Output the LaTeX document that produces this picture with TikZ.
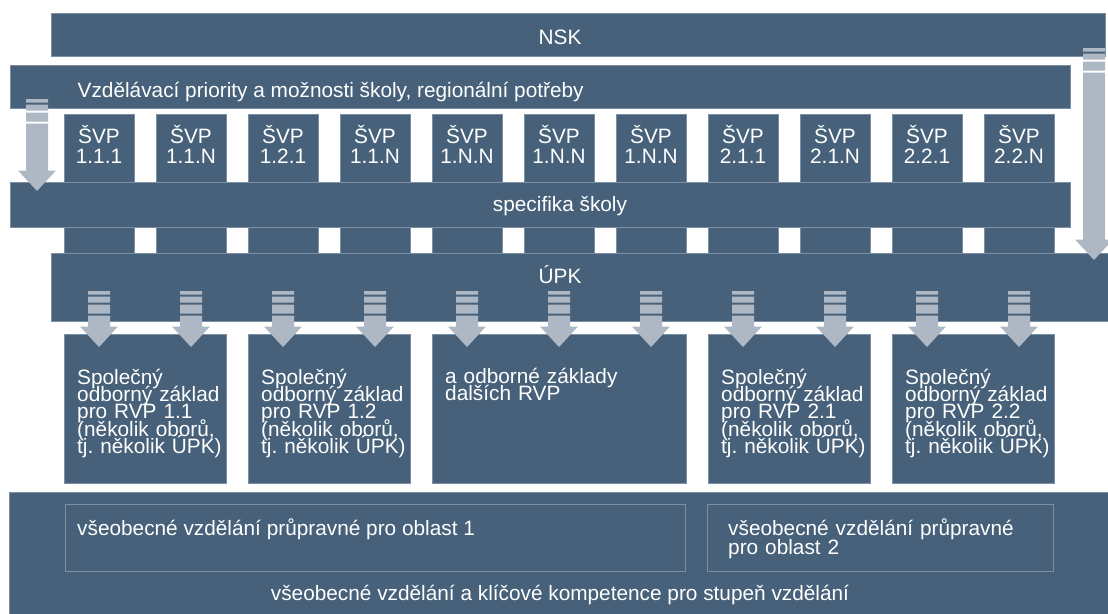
\documentclass[tikz,border=0pt]{standalone}
\usepackage{fontspec}
\setmainfont{Liberation Sans}
\definecolor{slate}{HTML}{466179}
\definecolor{slateline}{HTML}{7D90A3}
\definecolor{arrowgray}{HTML}{AEB7C4}
\newcommand\diagfont[1]{\fontsize{20.8}{#1}\selectfont\lineskiplimit=-100pt\frenchspacing\relax}

\begin{document}
\begin{tikzpicture}[
    x=1pt, y=-1pt,
    bar/.style={rectangle, draw=slateline, line width=0.6pt, fill=slate, inner sep=0pt},
    svpbox/.style={bar, minimum width=70pt, minimum height=139pt},
    basebox/.style={bar, minimum height=149pt},
    frame/.style={rectangle, draw=slateline, line width=0.6pt, inner sep=0pt, minimum height=67pt},
    txt/.style={text=white, inner sep=0pt, font={\diagfont{20pt}}},
    svptxt/.style={txt, anchor=base, text width=70pt, align=center},
    boxtxt/.style={txt, anchor=base west, text width=240pt, align=left, font={\diagfont{17.4pt}}},
    pics/stripedarrow/.style={code={
        \fill[arrowgray] (-11,0) rectangle (11,3.5) (-11,5.5) rectangle (11,11.5) (-11,13.5) rectangle (11,22.5);
        \fill[arrowgray] (-11,24.5) -- (11,24.5) -- (11,{#1-20.5}) -- (19,{#1-20.5}) -- (0,#1)
            -- (-19,{#1-20.5}) -- (-11,{#1-20.5}) -- cycle;
    }}
]
\useasboundingbox (0,0) rectangle (1108,613);

% NSK and school level
\node[bar, minimum width=1054pt, minimum height=43pt] (nsk) at (578,34.5) {};
\node[bar, minimum width=1060pt, minimum height=43pt] (priority) at (540,86.5) {};

% SVP columns
\node[svpbox] (svp1) at (99,183.5) {};
\node[svpbox] (svp2) at (191,183.5) {};
\node[svpbox] (svp3) at (283,183.5) {};
\node[svpbox] (svp4) at (375,183.5) {};
\node[svpbox] (svp5) at (467,183.5) {};
\node[svpbox] (svp6) at (559,183.5) {};
\node[svpbox] (svp7) at (651,183.5) {};
\node[svpbox] (svp8) at (743,183.5) {};
\node[svpbox] (svp9) at (835,183.5) {};
\node[svpbox] (svp10) at (927,183.5) {};
\node[svpbox] (svp11) at (1019,183.5) {};
\node[bar, minimum width=1060pt, minimum height=45pt] (specifika) at (540,204.5) {};

% UPK
\node[bar, minimum width=1057pt, minimum height=68pt] (upk) at (579.5,287) {};

% RVP bases
\node[basebox, minimum width=162pt] (rvp11) at (145,408.5) {};
\node[basebox, minimum width=162pt] (rvp12) at (329,408.5) {};
\node[basebox, minimum width=254pt] (rvpother) at (559,408.5) {};
\node[basebox, minimum width=162pt] (rvp21) at (789,408.5) {};
\node[basebox, minimum width=162pt] (rvp22) at (973,408.5) {};

% General education
\node[bar, minimum width=1101pt, minimum height=123pt] (general) at (559.5,553.5) {};
\node[frame, minimum width=620pt] (area1) at (375,537.5) {};
\node[frame, minimum width=346pt] (area2) at (880,537.5) {};

% Texts
\node[txt, anchor=base] (nsklabel) at (560,44.3) {NSK};
\node[txt, anchor=base west] (prioritylabel) at (77.5,97) {Vzdělávací priority a možnosti školy, regionální potřeby};
\node[svptxt] (svplabel1) at (99,143) {ŠVP\\1.1.1};
\node[svptxt] (svplabel2) at (191,143) {ŠVP\\1.1.N};
\node[svptxt] (svplabel3) at (283,143) {ŠVP\\1.2.1};
\node[svptxt] (svplabel4) at (375,143) {ŠVP\\1.1.N};
\node[svptxt] (svplabel5) at (467,143) {ŠVP\\1.N.N};
\node[svptxt] (svplabel6) at (559,143) {ŠVP\\1.N.N};
\node[svptxt] (svplabel7) at (651,143) {ŠVP\\1.N.N};
\node[svptxt] (svplabel8) at (743,143) {ŠVP\\2.1.1};
\node[svptxt] (svplabel9) at (835,143) {ŠVP\\2.1.N};
\node[svptxt] (svplabel10) at (927,143) {ŠVP\\2.2.1};
\node[svptxt] (svplabel11) at (1019,143) {ŠVP\\2.2.N};
\node[txt, anchor=base] (specifikalabel) at (560,211.7) {specifika školy};
\node[txt, anchor=base] (upklabel) at (560,283.3) {ÚPK};
\node[boxtxt] (rvplabel11) at (77,384) {Společný\\odborný základ\\pro RVP 1.1\\(několik oborů,\\tj. několik ÚPK)};
\node[boxtxt] (rvplabel12) at (261,384) {Společný\\odborný základ\\pro RVP 1.2\\(několik oborů,\\tj. několik ÚPK)};
\node[boxtxt] (rvplabelother) at (445,383.5) {a odborné základy\\dalších RVP};
\node[boxtxt] (rvplabel21) at (721,384) {Společný\\odborný základ\\pro RVP 2.1\\(několik oborů,\\tj. několik ÚPK)};
\node[boxtxt] (rvplabel22) at (905,384) {Společný\\odborný základ\\pro RVP 2.2\\(několik oborů,\\tj. několik ÚPK)};
\node[txt, anchor=base west] (area1label) at (77,535) {všeobecné vzdělání průpravné pro oblast 1};
\node[boxtxt, font={\diagfont{19pt}}, text width=320pt] (area2label) at (728,535) {všeobecné vzdělání průpravné\\pro oblast 2};
\node[txt, anchor=base] (generallabel) at (560,600.5) {všeobecné vzdělání a klíčové kompetence pro stupeň vzdělání};

% Arrows
\pic at (37,99) {stripedarrow=92};
\pic at (1094,48) {stripedarrow=212};
\pic at (99,291) {stripedarrow=56};
\pic at (191,291) {stripedarrow=56};
\pic at (283,291) {stripedarrow=56};
\pic at (375,291) {stripedarrow=56};
\pic at (467,291) {stripedarrow=56};
\pic at (559,291) {stripedarrow=56};
\pic at (651,291) {stripedarrow=56};
\pic at (743,291) {stripedarrow=56};
\pic at (835,291) {stripedarrow=56};
\pic at (927,291) {stripedarrow=56};
\pic at (1019,291) {stripedarrow=56};

\end{tikzpicture}
\end{document}
